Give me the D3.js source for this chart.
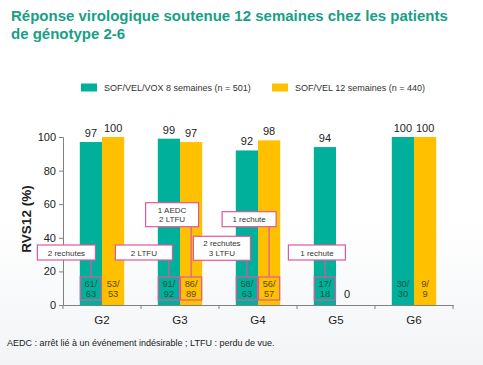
<!DOCTYPE html>
<html><head><meta charset="utf-8">
<script src="https://cdn.jsdelivr.net/npm/d3@7"></script>
<style>
html,body{margin:0;padding:0;background:#fff;}
svg{display:block;font-family:Arial,"Liberation Sans",sans-serif;}
</style></head>
<body>
<script>
// ---- data ----
const categories = ["G2", "G3", "G4", "G5", "G6"];
const seriesNames = ["SOF/VEL/VOX 8 semaines (n = 501)", "SOF/VEL 12 semaines (n = 440)"];
const voxValues = [97, 99, 92, 94, 100];
const velValues = [100, 97, 98, 0, 100];
const voxFractions = ["61/63", "91/92", "58/63", "17/18", "30/30"];
const velFractions = ["53/53", "86/89", "56/57", "", "9/9"];
const yTicks = [0, 20, 40, 60, 80, 100];
// annotations: category, series index (0 = VOX, 1 = VEL), text lines
const annotCats = ["G2", "G3", "G3", "G4", "G4", "G5"];
const annotSeries = [0, 0, 1, 0, 1, 0];
const annotTexts = [["2 rechutes"], ["2 LTFU"], ["1 AEDC", "2 LTFU"], ["2 rechutes", "3 LTFU"], ["1 rechute"], ["1 rechute"]];
const titleLines = ["Réponse virologique soutenue 12 semaines chez les patients", "de génotype 2-6"];
const footnote = "AEDC : arrêt lié à un événement indésirable ; LTFU : perdu de vue.";

// ---- layout (not data) ----
const W = 483, H = 365;
const annotLayout = [ // box center y, box width, x offset of box center from bar center
  {cy: 252.5, w: 58, dx: -24.5},
  {cy: 252.5, w: 57, dx: -25},
  {cy: 214.7, w: 53, dx: -19},
  {cy: 248.3, w: 57, dx: -25},
  {cy: 219.2, w: 54, dx: -20},
  {cy: 252.5, w: 57, dx: -8}
];
const colors = ["#00b09b", "#ffc000"];
const pink = "#e0579e";
const titleColor = "#17a085";

const svg = d3.select("body").append("svg").attr("width", W).attr("height", H);

// faint background tint near bottom
const defs = svg.append("defs");
const grad = defs.append("linearGradient").attr("id", "bg").attr("x1", 0).attr("y1", 0).attr("x2", 0).attr("y2", 1);
grad.append("stop").attr("offset", "0").attr("stop-color", "#ffffff");
grad.append("stop").attr("offset", "0.6").attr("stop-color", "#ffffff");
grad.append("stop").attr("offset", "1").attr("stop-color", "#f2f4f6");
svg.append("rect").attr("width", W).attr("height", H).attr("fill", "url(#bg)");

// title
svg.append("g").selectAll("text").data(titleLines).join("text")
  .attr("x", 11).attr("y", (d, i) => 21 + i * 18)
  .attr("fill", titleColor).attr("font-weight", "bold").attr("font-size", 15)
  .text(d => d);

// legend
const legend = svg.append("g");
const legX = [81, 272];
seriesNames.forEach((s, i) => {
  legend.append("rect").attr("x", legX[i]).attr("y", 83.5).attr("width", 16).attr("height", 8).attr("fill", colors[i]);
  legend.append("text").attr("x", legX[i] + 23).attr("y", 91).attr("font-size", 9).attr("fill", "#333").text(s);
});

// scales
const x = d3.scaleBand().domain(categories).range([63, 453]);
const y = d3.scaleLinear().domain([0, 100]).range([305, 137]);
const barW = 22.2;
const barX = (cat, s) => x(cat) + x.bandwidth() / 2 - barW + s * barW;

// axes
const yAxis = d3.axisLeft(y).tickValues(yTicks).tickSize(4).tickPadding(3);
const yg = svg.append("g").attr("transform", "translate(63,0)").call(yAxis);
yg.select(".domain").attr("stroke", "#808080");
yg.selectAll(".tick line").attr("stroke", "#808080");
yg.selectAll(".tick text").attr("font-size", 11).attr("fill", "#222").attr("font-family", "Arial, 'Liberation Sans', sans-serif");

const xAxis = d3.axisBottom(x).tickSize(0).tickPadding(11);
const xg = svg.append("g").attr("transform", "translate(0,305)").call(xAxis);
xg.select(".domain").attr("stroke", "#808080");
xg.selectAll(".tick text").attr("font-size", 11.5).attr("fill", "#222").attr("font-family", "Arial, 'Liberation Sans', sans-serif");
// boundary ticks
const bounds = categories.map(c => x(c)).concat([x.range()[1]]);
xg.selectAll(".bt").data(bounds).join("line").attr("class", "bt")
  .attr("x1", d => d).attr("x2", d => d).attr("y1", 0).attr("y2", 4).attr("stroke", "#808080");

// y label
svg.append("text").attr("transform", "translate(31,219) rotate(-90)")
  .attr("text-anchor", "middle").attr("font-weight", "bold").attr("font-size", 13.5).attr("fill", "#222")
  .text("RVS12 (%)");

// bars
const series = [voxValues, velValues];
const fracs = [voxFractions, velFractions];
const barsG = svg.append("g");
series.forEach((vals, s) => {
  barsG.selectAll(".b" + s).data(categories.map((c, i) => ({c, v: vals[i], f: fracs[s][i]}))).join("rect")
    .attr("x", d => barX(d.c, s)).attr("y", d => y(d.v)).attr("width", barW)
    .attr("height", d => y(0) - y(d.v)).attr("fill", colors[s]);
});
// value labels
series.forEach((vals, s) => {
  svg.append("g").selectAll("text").data(categories.map((c, i) => ({c, v: vals[i]}))).join("text")
    .attr("x", d => barX(d.c, s) + barW / 2).attr("y", d => d.v === 0 ? y(0) - 7 : y(d.v) - 5)
    .attr("text-anchor", "middle").attr("font-size", 11).attr("fill", "#222").text(d => d.v);
});
// fraction labels
const fracColors = ["#1a5248", "#5e4704"];
series.forEach((vals, s) => {
  const g = svg.append("g");
  categories.forEach((c, i) => {
    const f = fracs[s][i];
    if (!f) return;
    const parts = f.split("/");
    const t = g.append("text").attr("text-anchor", "middle").attr("font-size", 9.3).attr("fill", fracColors[s]);
    t.append("tspan").attr("x", barX(c, s) + barW / 2).attr("y", 286.5).text(parts[0] + "/");
    t.append("tspan").attr("x", barX(c, s) + barW / 2).attr("y", 297).text(parts[1]);
  });
});

// annotations
const ag = svg.append("g");
annotCats.forEach((c, i) => {
  const s = annotSeries[i];
  const L = annotLayout[i];
  const bx = barX(c, s);
  const cx = bx + barW / 2;
  const lines = annotTexts[i];
  const h = lines.length === 1 ? 15 : 24;
  const top = L.cy - h / 2;
  // small box around fraction
  ag.append("rect").attr("x", bx + 0.5).attr("y", 277).attr("width", barW - 1).attr("height", 23)
    .attr("fill", "none").attr("stroke", pink).attr("stroke-width", 1.2);
  // connector
  ag.append("line").attr("x1", cx).attr("x2", cx).attr("y1", top + h).attr("y2", 277)
    .attr("stroke", pink).attr("stroke-width", 1.2);
  // label box
  ag.append("rect").attr("x", cx + L.dx - L.w / 2).attr("y", top).attr("width", L.w).attr("height", h)
    .attr("fill", "#fff").attr("stroke", pink).attr("stroke-width", 1.2);
  const t = ag.append("text").attr("text-anchor", "middle").attr("font-size", 8).attr("fill", "#333");
  lines.forEach((ln, k) => {
    t.append("tspan").attr("x", cx + L.dx).attr("y", lines.length === 1 ? L.cy + 3 : L.cy - 2 + k * 9.5).text(ln);
  });
});

// footnote
svg.append("text").attr("x", 7).attr("y", 346).attr("font-size", 9).attr("fill", "#222").text(footnote);
</script>
</body></html>
